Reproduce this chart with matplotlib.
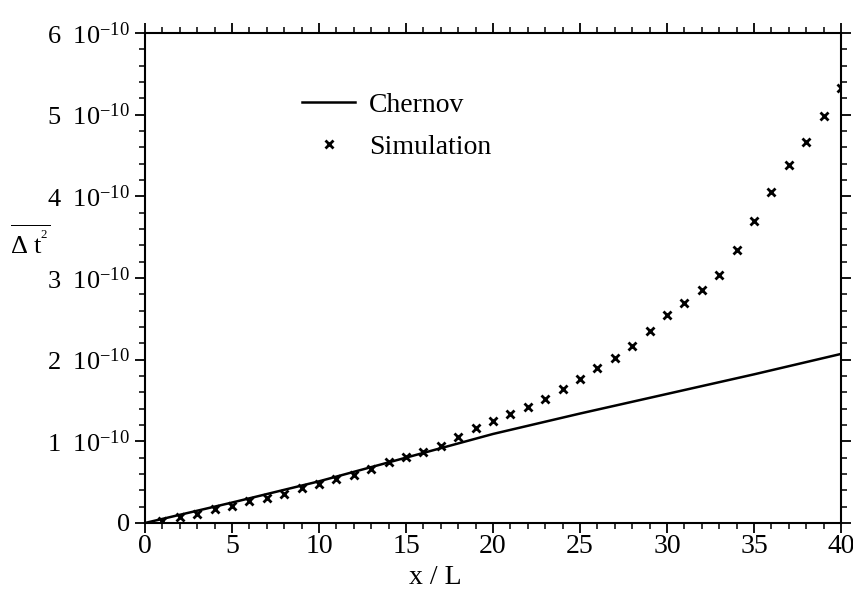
import matplotlib
matplotlib.use('Agg')
import matplotlib.pyplot as plt
from matplotlib.ticker import FixedLocator, FuncFormatter

plt.rcParams['font.family'] = ['Liberation Serif', 'DejaVu Serif']
plt.rcParams['mathtext.fontset'] = 'custom'
plt.rcParams['mathtext.rm'] = 'Liberation Serif'
plt.rcParams['mathtext.it'] = 'Liberation Serif:italic'

# Chernov curve (x / L, Delta t^2 in units of 1e-10)
chernov_x = [0, 5, 10, 15, 20, 25, 30, 35, 40]
chernov_y = [0.0, 0.25, 0.51, 0.80, 1.09, 1.34, 1.58, 1.82, 2.07]

# simulation points
sim_x = list(range(1, 41))
sim_y = [0.03, 0.077, 0.11, 0.168, 0.208, 0.273, 0.31, 0.359, 0.428, 0.477,
         0.535, 0.592, 0.665, 0.743, 0.812, 0.873, 0.947, 1.057, 1.16, 1.249,
         1.331, 1.417, 1.515, 1.645, 1.763, 1.895, 2.017, 2.171, 2.347, 2.547,
         2.697, 2.849, 3.033, 3.343, 3.698, 4.053, 4.383, 4.669, 4.987, 5.323]

xticks = [0, 5, 10, 15, 20, 25, 30, 35, 40]
yticks = [0, 1, 2, 3, 4, 5, 6]
scale = 1e-10

fig = plt.figure(figsize=(8.54, 5.9), dpi=100)
ax = fig.add_axes([0.1698, 0.1136, 0.815, 0.8305])

ax.plot(chernov_x, [v * scale for v in chernov_y], '-', color='black', lw=1.8, label='Chernov')
ax.plot(sim_x, [v * scale for v in sim_y], 'x', color='black', ms=6, mew=2.0, label='Simulation')

ax.set_xlim(0, 40)
ax.set_ylim(0, 6e-10)
ax.xaxis.set_major_locator(FixedLocator(xticks))
ax.xaxis.set_minor_locator(FixedLocator(range(0, 41)))
ax.yaxis.set_major_locator(FixedLocator([t * scale for t in yticks]))
ax.yaxis.set_minor_locator(FixedLocator([i * 0.2e-10 for i in range(31)]))


def yfmt(v, pos):
    n = int(round(v / scale))
    if n == 0:
        return '0'
    return r'$\mathregular{%d\ \ 10^{-10}}$' % n


ax.yaxis.set_major_formatter(FuncFormatter(yfmt))
ax.tick_params(axis='both', which='both', direction='out', top=True, right=True, color='black')
ax.tick_params(which='major', length=7, width=1.3)
ax.tick_params(which='minor', length=4, width=1.1)
ax.tick_params(axis='x', labelsize=20, pad=1)
ax.tick_params(axis='y', labelsize=19, pad=4)
for s in ax.spines.values():
    s.set_linewidth(1.5)

ax.set_xlabel('x / L', fontsize=20, labelpad=5)
ax.xaxis.set_label_coords(0.417, -0.085)
fig.text(0.012, 0.59, r'$\mathregular{\overline{\Delta\ t^{^2}}}$', fontsize=19, ha='left', va='center')

ax.legend(loc='upper left', bbox_to_anchor=(0.19, 0.93), frameon=False, fontsize=20,
          handlelength=1.9, handletextpad=0.5, labelspacing=0.6)

fig.savefig('out.png', dpi=100)
